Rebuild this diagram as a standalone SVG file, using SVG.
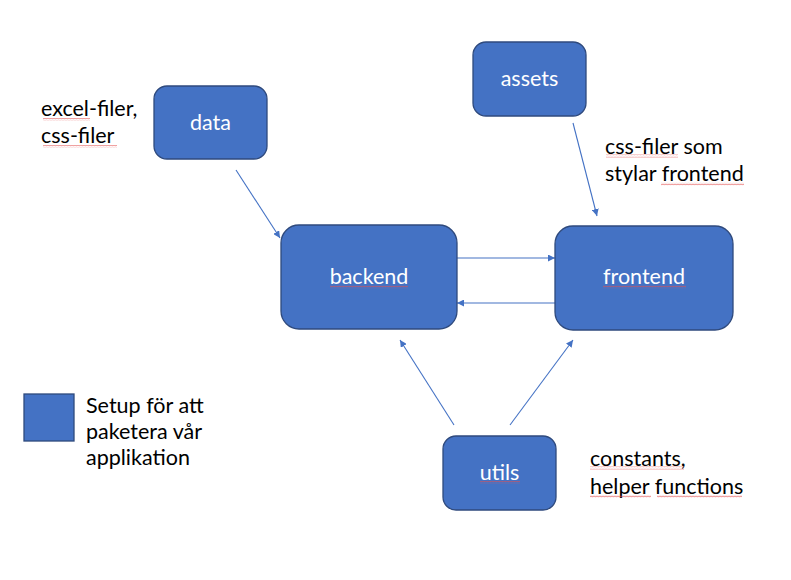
<svg xmlns="http://www.w3.org/2000/svg" width="791" height="580" viewBox="0 0 791 580">
<style>
.node{fill:#4472C4;stroke:#2F4A7D;stroke-width:1.3}
.lbl{font-family:Lato,"Liberation Sans",sans-serif;font-size:21.5px;fill:#ffffff;text-anchor:middle}
.txt{font-family:Lato,"Liberation Sans",sans-serif;font-size:21.5px;fill:#000000}
.edge{stroke:#4472C4;stroke-width:1.1;fill:none;marker-end:url(#ah)}
.sq{fill:url(#wave)}
</style>
<defs>
<marker id="ah" viewBox="0 0 10 10" refX="10" refY="5" markerWidth="7" markerHeight="7" orient="auto" markerUnits="userSpaceOnUse">
<path d="M0,0 L10,5 L0,10 z" fill="#4472C4"/>
</marker>
<pattern id="wave" width="3" height="3" patternUnits="userSpaceOnUse">
<path d="M0,2.2 L0.75,0.8 L1.5,2.2 L2.25,0.8 L3,2.2" stroke="#E05050" stroke-width="0.5" fill="none"/>
</pattern>
</defs>
<rect width="791" height="580" fill="#ffffff"/>
<g id="connectors">
<line class="edge" x1="236" y1="170" x2="280" y2="238"/>
<line class="edge" x1="573" y1="123" x2="597" y2="216"/>
<line class="edge" x1="457" y1="258" x2="555" y2="258"/>
<line class="edge" x1="555" y1="303" x2="457" y2="303"/>
<line class="edge" x1="454" y1="425" x2="400" y2="340"/>
<line class="edge" x1="510" y1="425" x2="573" y2="340"/>
</g>
<g id="data">
<rect class="node" x="154" y="86" width="113" height="73" rx="13"/>
<text class="lbl" x="210.5" y="130">data</text>
</g>
<g id="assets">
<rect class="node" x="473" y="42" width="113" height="74" rx="13"/>
<text class="lbl" x="529.5" y="86">assets</text>
</g>
<g id="backend">
<rect class="node" x="281" y="225" width="176" height="104" rx="18"/>
<text class="lbl" x="369" y="284">backend</text>
</g>
<g id="frontend">
<rect class="node" x="555" y="226" width="178" height="104" rx="18"/>
<text class="lbl" x="644" y="284">frontend</text>
</g>
<g id="utils">
<rect class="node" x="443" y="436" width="113" height="74" rx="13"/>
<text class="lbl" x="499.5" y="480">utils</text>
</g>
<g id="legend">
<rect x="24" y="394" width="50" height="47" fill="#4472C4" stroke="#2F4A7D" stroke-width="1.3"/>
<text class="txt" x="86" y="413">Setup för att</text>
<text class="txt" x="86" y="439">paketera vår</text>
<text class="txt" x="86" y="465">applikation</text>
</g>
<g id="notes">
<text class="txt" x="41" y="116">excel-filer,</text>
<text class="txt" x="41" y="143">css-filer</text>
<text class="txt" x="605" y="154">css-filer som</text>
<text class="txt" x="605" y="181">stylar frontend</text>
<text class="txt" x="590" y="466">constants,</text>
<text class="txt" x="590" y="494">helper functions</text>
</g>
<g id="spellcheck">
<rect class="sq" x="43" y="118" width="47" height="3"/>
<rect class="sq" x="43" y="145" width="74" height="3"/>
<rect class="sq" x="606" y="154.5" width="72" height="3"/>
<rect class="sq" x="661" y="182.5" width="83" height="3"/>
<rect class="sq" x="330" y="285.5" width="78" height="3"/>
<rect class="sq" x="603" y="285.5" width="83" height="3"/>
<rect class="sq" x="480" y="481" width="40" height="3"/>
<rect class="sq" x="590" y="466.5" width="94" height="3"/>
<rect class="sq" x="590" y="495" width="61" height="3"/>
<rect class="sq" x="657" y="495" width="85" height="3"/>
</g>
</svg>
